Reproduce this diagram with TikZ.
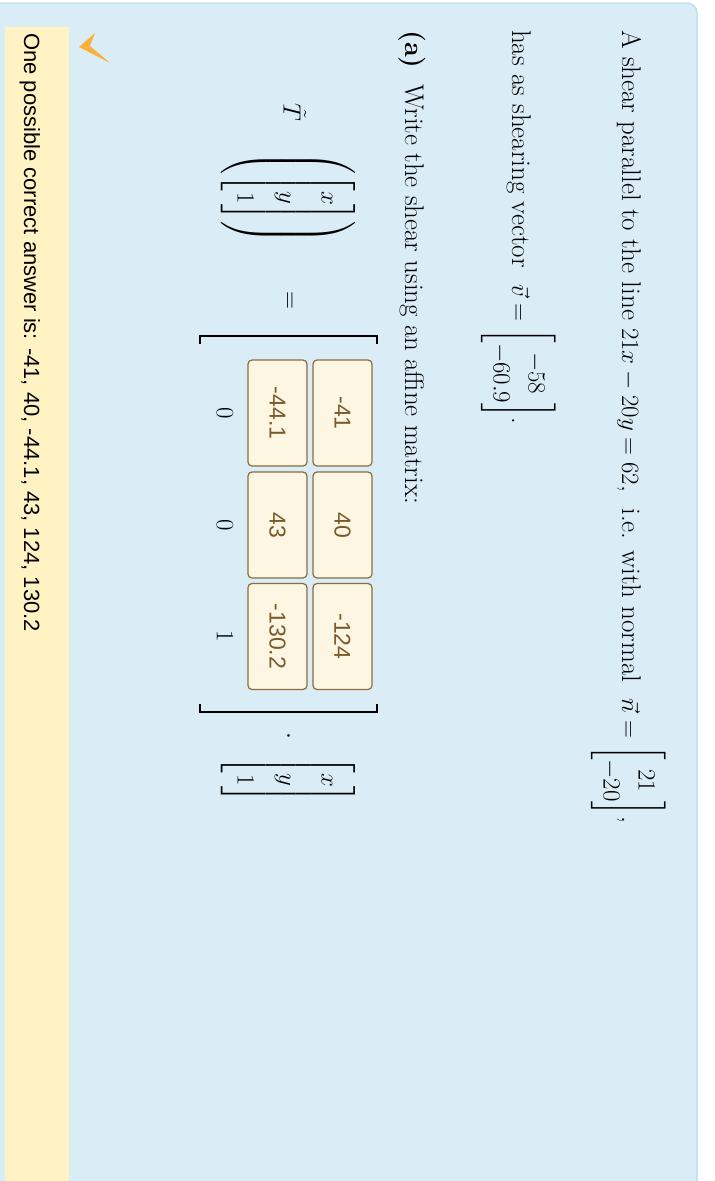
\documentclass[tikz,border=0pt]{standalone}
\usepackage{amsmath}
\usepackage{fontspec}
\newfontfamily\answerfont{Liberation Sans}
\definecolor{panelblue}{HTML}{DAEDF7}
\definecolor{panelline}{HTML}{BFE0F0}
\definecolor{answeryellow}{HTML}{FFF3C4}
\definecolor{boxfill}{HTML}{FDF6E3}
\definecolor{boxline}{HTML}{8B6D3F}
\definecolor{boxtext}{HTML}{7A5A2A}
\definecolor{tickorange}{HTML}{FBB03B}
\begin{document}
\begin{tikzpicture}[x=1pt,y=-1pt,
    line/.style={rotate=-90,anchor=base west,inner sep=0pt,font=\fontsize{27}{35}\selectfont},
    eq/.style={rotate=-90,inner sep=0pt,font=\fontsize{28.5}{42}\selectfont},
    entry/.style={rotate=-90,draw=boxline,fill=boxfill,rounded corners=4pt,line width=1.2pt,
        minimum width=106pt,minimum height=59pt,text=boxtext,font=\answerfont\fontsize{23}{27}\selectfont},
    bracket/.style={line width=2.5pt}]

    \useasboundingbox (0,0) rectangle (715,1181);
    \clip (0,0) rectangle (715,1181);
    \draw[panelline,fill=panelblue,line width=1.5pt,rounded corners=10pt] (-20,3) rectangle (697,1220);
    \fill[answeryellow] (5,27) rectangle (69,1200);
    \fill[tickorange] (79,47) -- (95,33) -- (90,46) -- (110,63) -- cycle;

    % statement
    \node[line] (first) at (622,30) {A shear parallel to the line $21x-20y=62$,\ \ i.e. with normal\ \ $\vec{n}=\begin{bmatrix}21\\-20\end{bmatrix}$,};
    \node[line] (second) at (512,30) {has as shearing vector\ \ $\vec{v}=\begin{bmatrix}-58\\-60.9\end{bmatrix}$.};
    \node[line] (part) at (405,30) {\textbf{(a)}\ \ Write the shear using an affine matrix:};

    % equation
    \node[eq] (T) at (295,112) {$\tilde{T}$};
    \node[eq] (arg) at (288,198) {$\left(\begin{bmatrix}x\\y\\1\end{bmatrix}\right)$};
    \node[eq] (equals) at (288,300) {$=$};
    \draw[bracket] (377,344) -- (377,336) -- (200,336) -- (200,344);
    \draw[bracket] (377,704) -- (377,712) -- (200,712) -- (200,704);
    \node[entry] (a11) at (342.5,413) {-41};
    \node[entry] (a12) at (342.5,525) {40};
    \node[entry] (a13) at (342.5,636.5) {-124};
    \node[entry] (a21) at (277.5,413) {-44.1};
    \node[entry] (a22) at (277.5,525) {43};
    \node[entry] (a23) at (277.5,636.5) {-130.2};
    \node[eq] (a31) at (225,413) {$0$};
    \node[eq] (a32) at (225,525) {$0$};
    \node[eq] (a33) at (225,636.5) {$1$};
    \node[eq] (dot) at (288,736) {$\cdot$};
    \node[eq] (vec) at (288,780) {$\begin{bmatrix}x\\y\\1\end{bmatrix}$};

    % answer
    \node[rotate=-90,anchor=base west,inner sep=0pt,font=\answerfont\fontsize{22}{26}\selectfont] (answer) at (24,33)
        {One possible correct answer is: -41, 40, -44.1, 43, 124, 130.2};

\end{tikzpicture}
\end{document}
